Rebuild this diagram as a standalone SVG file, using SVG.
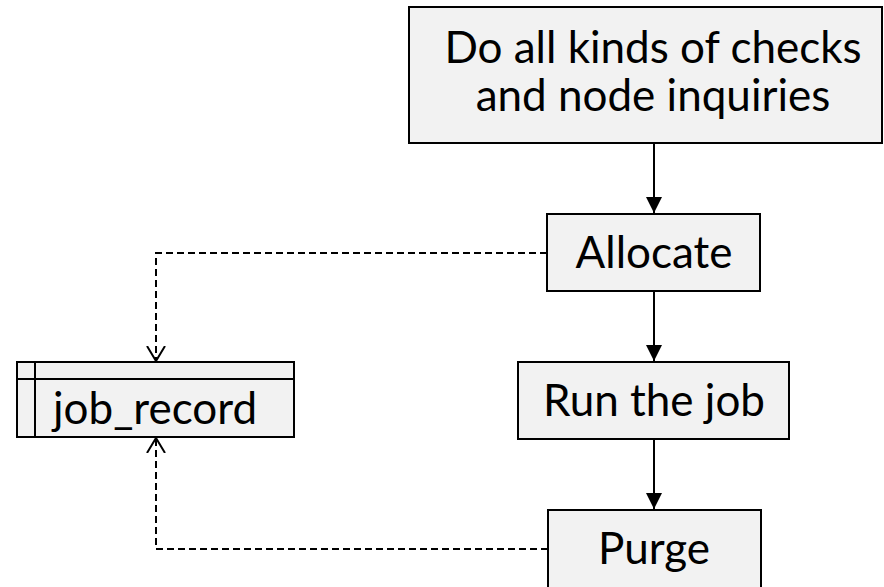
<svg xmlns="http://www.w3.org/2000/svg" width="884" height="587" viewBox="0 0 884 587">
<style>
.box{fill:#f2f2f2;stroke:#000;stroke-width:2}
.t{font-family:Lato,"Open Sans","Liberation Sans",sans-serif;font-size:44px;fill:#000;text-anchor:middle}
.flow{stroke:#000;stroke-width:2;fill:none}
.dash{stroke:#000;stroke-width:2;fill:none;stroke-dasharray:7 4}
</style>
<defs>
<marker id="solid" viewBox="0 0 16 16" refX="16" refY="8" markerWidth="16" markerHeight="16" markerUnits="userSpaceOnUse" orient="auto">
<path d="M0,0 L16,8 L0,16 Z" fill="#000"/>
</marker>
<marker id="open" viewBox="0 0 16 20" refX="15" refY="10" markerWidth="16" markerHeight="20" markerUnits="userSpaceOnUse" orient="auto">
<path d="M0,1 L15,10 L0,19" fill="none" stroke="#000" stroke-width="2"/>
</marker>
</defs>
<g id="connectors">
<line class="flow" x1="654" y1="143" x2="654" y2="213" marker-end="url(#solid)"/>
<line class="flow" x1="654" y1="291" x2="654" y2="361" marker-end="url(#solid)"/>
<line class="flow" x1="654" y1="439" x2="654" y2="509" marker-end="url(#solid)"/>
<polyline class="dash" points="547,253 156,253 156,361" marker-end="url(#open)"/>
<polyline class="dash" points="548,549 156,549 156,438" marker-end="url(#open)"/>
</g>
<g id="checks">
<rect class="box" x="409" y="7" width="473" height="136"/>
<text class="t" x="653" y="63">Do all kinds of checks</text>
<text class="t" x="653" y="111">and node inquiries</text>
</g>
<g id="allocate">
<rect class="box" x="547" y="214" width="213" height="77"/>
<text class="t" x="654" y="268">Allocate</text>
</g>
<g id="run">
<rect class="box" x="518" y="362" width="271" height="77"/>
<text class="t" x="654" y="416">Run the job</text>
</g>
<g id="purge">
<rect class="box" x="548" y="510" width="213" height="78"/>
<text class="t" x="654" y="564">Purge</text>
</g>
<g id="job_record">
<rect class="box" x="17" y="362" width="277" height="75"/>
<line class="flow" x1="35" y1="362" x2="35" y2="437"/>
<line class="flow" x1="17" y1="379" x2="294" y2="379"/>
<text class="t" x="53" y="424" style="text-anchor:start">job_record</text>
</g>
</svg>
